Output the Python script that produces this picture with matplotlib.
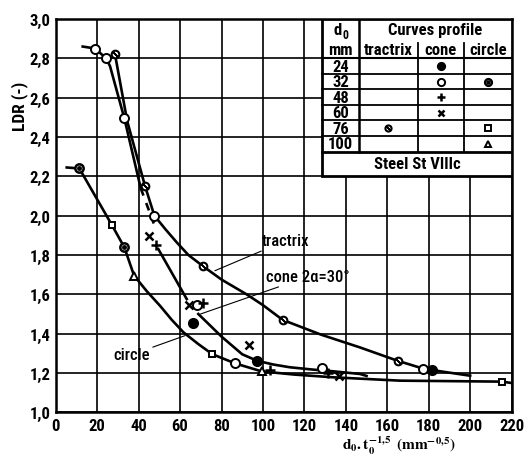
import matplotlib
matplotlib.use('Agg')
import matplotlib.pyplot as plt
from matplotlib.patches import Rectangle

plt.rcParams['font.family'] = ['Liberation Sans Narrow', 'DejaVu Sans Condensed', 'Roboto Condensed',
                               'Liberation Sans', 'DejaVu Sans']
plt.rcParams['mathtext.fontset'] = 'stix'

''' ----- data read off the chart ----- '''
x_ticks = [0, 20, 40, 60, 80, 100, 120, 140, 160, 180, 200, 220]
y_ticks = [1.0, 1.2, 1.4, 1.6, 1.8, 2.0, 2.2, 2.4, 2.6, 2.8, 3.0]

# fitted curves (read as vertices)
tractrix_x = [28.6, 34.5, 43.1, 47.6, 53, 58.4, 64, 71.2, 80, 92.1, 100, 109.5, 128, 146.8, 165, 178, 181.5, 200]
tractrix_y = [2.82, 2.48, 2.15, 2.00, 1.93, 1.864, 1.80, 1.742, 1.675, 1.60, 1.545, 1.47, 1.395, 1.33, 1.262, 1.22, 1.215, 1.186]

cone_top_x = [13, 19, 24.3, 26.2, 33.1, 41.0]
cone_top_y = [2.86, 2.85, 2.80, 2.76, 2.495, 2.14]
cone_dash_x = [41.0, 47.3]
cone_dash_y = [2.14, 1.96]
cone_mid_x = [49.5, 63.2]
cone_mid_y = [1.83, 1.576]
cone_low_x = [68.8, 80, 90, 97.2, 105, 113, 124.3, 131.5, 146.8, 150]
cone_low_y = [1.50, 1.385, 1.295, 1.262, 1.243, 1.229, 1.217, 1.211, 1.195, 1.185]

circle_x = [5.3, 11.4, 27, 33.1, 37.8, 44, 50.3, 56, 61.6, 68.8, 75.5, 86.5, 99.4, 115, 133.9, 166, 215.4, 220]
circle_y = [2.245, 2.24, 1.954, 1.839, 1.695, 1.615, 1.542, 1.47, 1.407, 1.347, 1.296, 1.249, 1.208, 1.192, 1.178, 1.161, 1.156, 1.149]

# measured points
open_x = [19, 24.3, 33.1, 47.6, 68, 86.5, 128.3, 177]
open_y = [2.85, 2.80, 2.495, 2.0, 1.545, 1.249, 1.225, 1.22]
filled_x = [66.4, 97.2, 181.5]
filled_y = [1.455, 1.262, 1.217]
plus_x = [48.4, 71.2, 103.5, 131.5]
plus_y = [1.85, 1.556, 1.215, 1.20]
cross_x = [45.2, 64.4, 93.4, 136.8]
cross_y = [1.895, 1.545, 1.342, 1.183]
slash_x = [28.6, 43.1, 71.2, 109.5, 165]
slash_y = [2.82, 2.15, 1.742, 1.47, 1.262]
dot_x = [11.4, 33.1]
dot_y = [2.24, 1.839]
square_x = [27, 75.5, 215.4]
square_y = [1.954, 1.296, 1.156]
tri_x = [37.8, 99.4]
tri_y = [1.695, 1.208]

d0_rows = ['24', '32', '48', '60', '76', '100']

fig = plt.figure(figsize=(5.31, 4.60), dpi=100)
ax = fig.add_axes([0.105, 0.1015, 0.8585, 0.855])

lw = 1.9
ax.plot(tractrix_x, tractrix_y, color='black', lw=lw, zorder=3)
ax.plot(cone_top_x, cone_top_y, color='black', lw=lw, zorder=3)
ax.plot(cone_dash_x, cone_dash_y, color='black', lw=lw, ls=(0, (3, 3)), zorder=3)
ax.plot(cone_mid_x, cone_mid_y, color='black', lw=lw, zorder=3)
ax.plot(cone_low_x, cone_low_y, color='black', lw=lw, zorder=3)
ax.plot(circle_x, circle_y, color='black', lw=lw, zorder=3)

def markers(ax, xs, ys, kind, size=1.0, z=5):
  if kind == 'open':
    ax.plot(xs, ys, 'o', ms=6.5*size, mfc='white', mec='black', mew=1.4, zorder=z)
  elif kind == 'filled':
    ax.plot(xs, ys, 'o', ms=7*size, mfc='black', mec='black', zorder=z)
  elif kind == 'plus':
    ax.plot(xs, ys, '+', ms=7*size, mec='black', mew=1.8, zorder=z)
  elif kind == 'cross':
    ax.plot(xs, ys, 'x', ms=5.5*size, mec='black', mew=1.8, zorder=z)
  elif kind == 'slash':
    ax.plot(xs, ys, 'o', ms=5.5*size, mfc='white', mec='black', mew=1.5, zorder=z)
    ax.plot(xs, ys, marker=(2, 2, 45), ls='none', ms=5*size, mec='black', mew=1.2, zorder=z + 1)
  elif kind == 'dot':
    ax.plot(xs, ys, 'o', ms=6*size, mfc='white', mec='black', mew=1.8, zorder=z)
    ax.plot(xs, ys, 'o', ms=2.5*size, mfc='black', mec='black', zorder=z + 1)
  elif kind == 'square':
    ax.plot(xs, ys, 's', ms=5*size, mfc='white', mec='black', mew=1.4, zorder=z)
  elif kind == 'tri':
    ax.plot(xs, ys, '^', ms=5.5*size, mfc='white', mec='black', mew=1.4, zorder=z)

markers(ax, open_x, open_y, 'open')
markers(ax, filled_x, filled_y, 'filled')
markers(ax, plus_x, plus_y, 'plus')
markers(ax, cross_x, cross_y, 'cross')
markers(ax, slash_x, slash_y, 'slash')
markers(ax, dot_x, dot_y, 'dot')
markers(ax, square_x, square_y, 'square')
markers(ax, tri_x, tri_y, 'tri')

# curve labels
arr = dict(arrowstyle='-', color='black', lw=0.8, shrinkA=0, shrinkB=0)
af = dict(fontsize=12, fontweight='medium', va='center')
ax.annotate('tractrix', xy=(76.8, 1.72), xytext=(99.4, 1.872), ha='left', arrowprops=arr, zorder=4, **af)
ax.annotate('cone 2α=30°', xy=(69.9, 1.50), xytext=(101.6, 1.69), ha='left', arrowprops=arr, zorder=4, **af)
ax.annotate('circle', xy=(62.4, 1.39), xytext=(45.5, 1.293), ha='right', arrowprops=arr, zorder=4, **af)

''' ----- the little table in the corner ----- '''
tl, tc0, tc1, tc2, tr = 128.6, 146.3, 174.6, 197.0, 220.0
top, head_b, rowh = 3.0, 2.8, 0.079
steel_top = head_b - rowh*len(d0_rows)
bot = 2.2
ax.add_patch(Rectangle((tl, bot), tr - tl, top - bot, facecolor='white', edgecolor='black', lw=2.0, zorder=7))
tk = dict(color='black', zorder=8)
ax.plot([tl, tr], [head_b, head_b], lw=1.5, **tk)
for i in range(1, len(d0_rows) + 1):
  y = head_b - rowh*i
  ax.plot([tl, tr], [y, y], lw=2.0 if i == len(d0_rows) else 1.3, **tk)
ax.plot([tc0, tc0], [steel_top, top], lw=1.8, **tk)
ax.plot([tc1, tc1], [steel_top, 2.88], lw=1.3, **tk)
ax.plot([tc2, tc2], [steel_top, 2.88], lw=1.3, **tk)

tf = dict(fontsize=12, fontweight='bold', ha='center', va='center', zorder=9)
ax.text(136.2, 2.945, 'd', **tf)
ax.text(139.6, 2.922, '0', fontsize=8.5, fontweight='bold', ha='center', va='center', zorder=9)
ax.text((tl + tc0)/2, 2.843, 'mm', **tf)
ax.text((tc0 + tr)/2, 2.945, 'Curves profile', **tf)
ax.text((tc0 + tc1)/2, 2.843, 'tractrix', **tf)
ax.text((tc1 + tc2)/2, 2.843, 'cone', **tf)
ax.text((tc2 + tr)/2, 2.843, 'circle', **tf)
for i, lab in enumerate(d0_rows):
  ax.text((tl + tc0)/2, head_b - rowh*(i + 0.5), lab, **tf)
ax.text((tl + tr)/2, (steel_top + bot)/2, 'Steel St VIIIc', **tf)

cx_t, cx_c, cx_o = (tc0 + tc1)/2, (tc1 + tc2)/2, (tc2 + tr)/2
ry = [head_b - rowh*(i + 0.5) for i in range(len(d0_rows))]
def tmark(xc, yc, kind):
  markers(ax, [xc], [yc], kind, size=0.8, z=10)
tmark(cx_c, ry[0], 'filled')
tmark(cx_c, ry[1], 'open')
tmark(cx_o, ry[1], 'dot')
tmark(cx_c, ry[2], 'plus')
tmark(cx_c, ry[3], 'cross')
tmark(cx_t, ry[4], 'slash')
tmark(cx_o, ry[4], 'square')
tmark(cx_o, ry[5], 'tri')

ax.set_xlim(0, 220)
ax.set_ylim(1.0, 3.0)
ax.set_xticks(x_ticks)
ax.set_yticks(y_ticks)
ax.set_xticklabels([str(v) for v in x_ticks])
ax.set_yticklabels([('%.1f' % v).replace('.', ',') for v in y_ticks])
ax.tick_params(length=0, labelsize=12, pad=4)
for lab in ax.get_xticklabels() + ax.get_yticklabels():
  lab.set_fontweight('bold')
ax.grid(True, color='black', lw=1.2)
ax.set_axisbelow(True)
for s in ax.spines.values():
  s.set_linewidth(1.8)

ax.text(-0.08, 0.781, 'LDR (-)', transform=ax.transAxes, rotation=90, fontsize=12.5,
        fontweight='bold', ha='center', va='center')
ax.text(0.753, -0.082, r'$\mathbf{d_0.t_0^{-1{,}5}}\;\;\mathbf{(mm^{-0{,}5})}$', transform=ax.transAxes,
        fontsize=11, ha='center', va='center')

plt.savefig('out.png', dpi=100)
